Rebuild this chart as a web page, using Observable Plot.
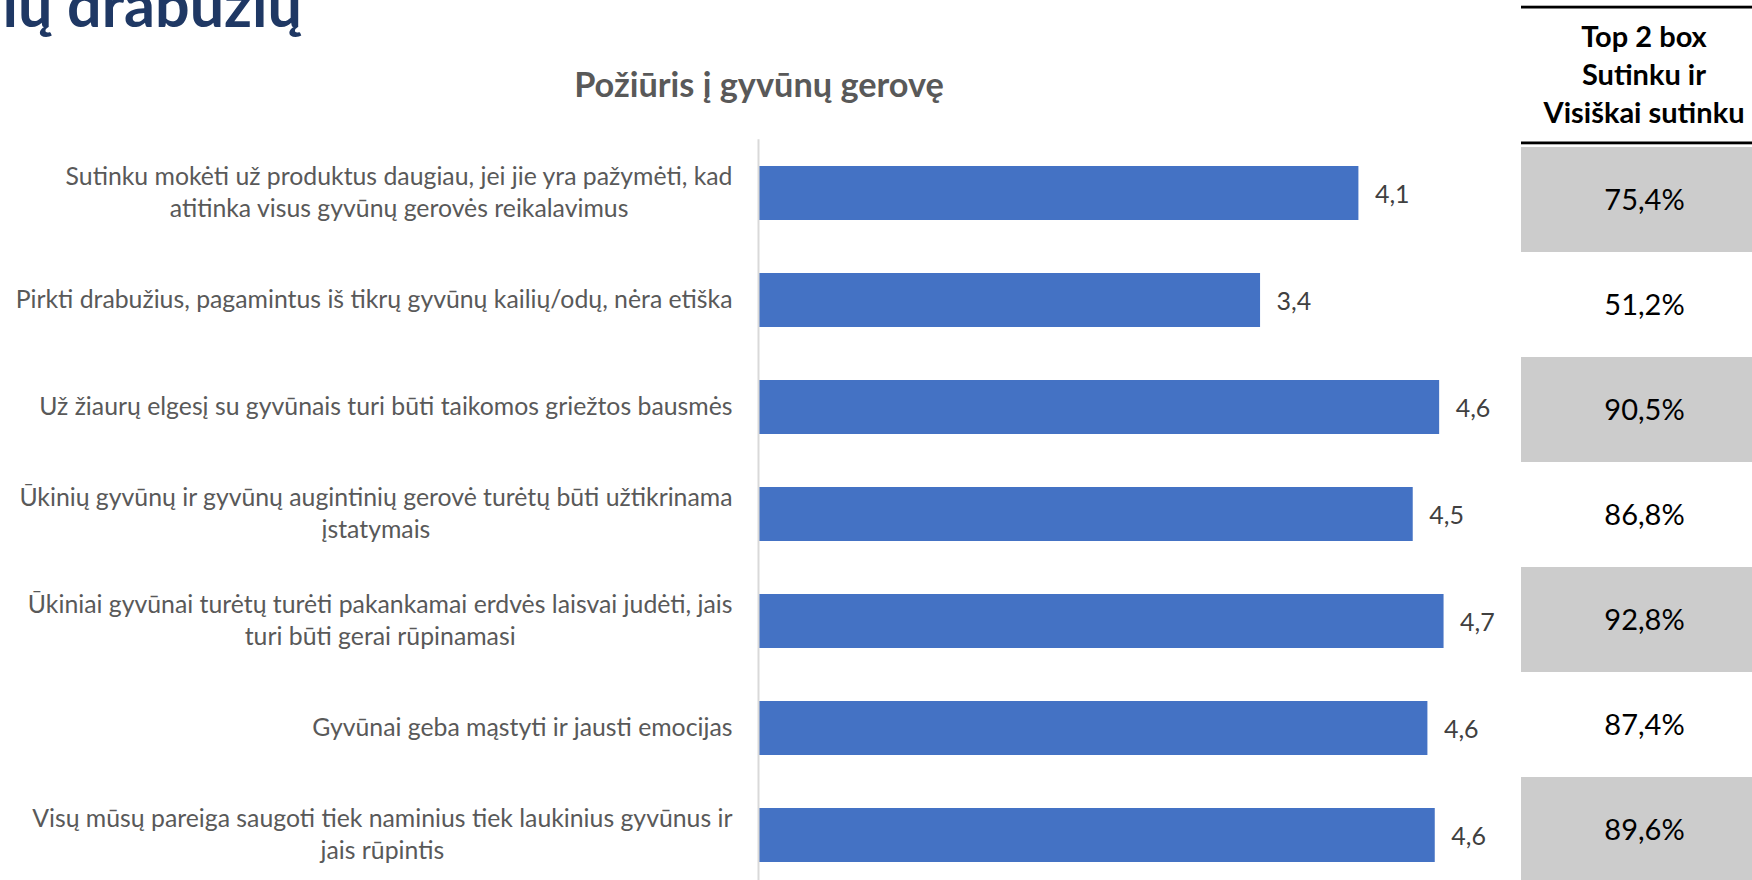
<!DOCTYPE html>
<html><head><meta charset="utf-8">
<script src="https://cdn.jsdelivr.net/npm/d3@7"></script>
<script src="https://cdn.jsdelivr.net/npm/@observablehq/plot@0.6"></script>
<style>
html,body{margin:0;padding:0;overflow:hidden;background:#fff;}
#wrap{position:relative;width:1752px;height:880px;overflow:hidden;}
#wrap svg{position:absolute;left:0;top:0;max-width:none !important;}
</style></head><body><div id="wrap"></div>
<script>
const statements = [
  "Sutinku mokėti už produktus daugiau, jei jie yra pažymėti, kad\natitinka visus gyvūnų gerovės reikalavimus",
  "Pirkti drabužius, pagamintus iš tikrų gyvūnų kailių/odų, nėra etiška",
  "Už žiaurų elgesį su gyvūnais turi būti taikomos griežtos bausmės",
  "Ūkinių gyvūnų ir gyvūnų augintinių gerovė turėtų būti užtikrinama\nįstatymais",
  "Ūkiniai gyvūnai turėtų turėti pakankamai erdvės laisvai judėti, jais\nturi būti gerai rūpinamasi",
  "Gyvūnai geba mąstyti ir jausti emocijas",
  "Visų mūsų pareiga saugoti tiek naminius tiek laukinius gyvūnus ir\njais rūpintis"
];
const means = [4.09, 3.42, 4.64, 4.46, 4.67, 4.56, 4.61];
const top2box = [75.4, 51.2, 90.5, 86.8, 92.8, 87.4, 89.6];
const headerLines = ["Top 2 box", "Sutinku ir", "Visiškai sutinku"];
const chartTitle = "Požiūris į gyvūnų gerovę";
const pageHeading = "ių drabužių";

const fmt = v => v.toFixed(1).replace(".", ",");
const rows = statements.map((s, i) => ({key: s, mean: means[i], t2b: top2box[i], i}));
const FONT = "Lato, 'Open Sans', sans-serif";
const wrap = document.getElementById("wrap");

const main = Plot.plot({
  width: 1752, height: 900,
  marginLeft: 758, marginRight: 260, marginTop: 139.25, marginBottom: 11.75,
  style: {fontFamily: FONT, background: "transparent", overflow: "visible"},
  x: {domain: [0, 5], axis: null},
  y: {type: "band", domain: statements, paddingInner: 0.5, paddingOuter: 0.25},
  marks: [
    Plot.barX(rows, {y: "key", x: "mean", fill: "#4472C4"}),
    Plot.ruleX([0], {stroke: "#d9d9d9", strokeWidth: 2}),
    Plot.axisY({tickSize: 0, tickPadding: 26, fontSize: 24.8, color: "#595959", lineHeight: 1.3, label: null, dy: -2.5}),
    Plot.text(rows, {y: "key", x: "mean", text: d => fmt(d.mean), dx: 16, textAnchor: "start", fontSize: 25, fill: "#404040", dy: 1})
  ]
});
wrap.appendChild(main);

// center multi-line labels relative to each other, block right-aligned
d3.select(main).selectAll('g[aria-label="y-axis tick label"] text').each(function() {
  const tspans = this.querySelectorAll("tspan");
  if (tspans.length > 1) {
    const w = this.getBBox().width;
    this.setAttribute("text-anchor", "middle");
    tspans.forEach(t => t.setAttribute("x", -w / 2));
  }
});

const table = Plot.plot({
  width: 1767, height: 900,
  marginLeft: 1521, marginRight: 0, marginTop: 144, marginBottom: 15,
  style: {fontFamily: FONT, background: "transparent"},
  color: {type: "identity"},
  x: {type: "band", domain: ["t2b"], padding: 0, axis: null},
  y: {type: "band", domain: statements, padding: 0, axis: null},
  marks: [
    Plot.cell(rows, {x: () => "t2b", y: "key", fill: d => d.i % 2 === 0 ? "#cccccc" : "#ffffff", inset: 0}),
    Plot.text(rows, {x: () => "t2b", y: "key", text: d => fmt(d.t2b) + "%", fontSize: 29, fill: "#000000", dy: 1})
  ]
});
wrap.appendChild(table);

// overlay texts and header rules
const ov = d3.select(wrap).append("svg")
  .attr("width", 1767).attr("height", 880)
  .style("font-family", FONT).style("pointer-events", "none");

ov.append("text").attr("x", 302).attr("y", 27).attr("text-anchor", "end")
  .attr("font-size", 61).attr("font-weight", 700).attr("fill", "#1F3864").text(pageHeading);

ov.append("text").attr("x", 759).attr("y", 96.7).attr("text-anchor", "middle")
  .attr("font-size", 34.3).attr("font-weight", 700).attr("fill", "#595959").text(chartTitle);

ov.selectAll("text.hdr").data(headerLines).join("text").attr("class", "hdr")
  .attr("x", 1644).attr("y", (d, i) => 46.7 + i * 38.3).attr("text-anchor", "middle")
  .attr("font-size", 29).attr("font-weight", 700).attr("fill", "#000").text(d => d);

ov.append("rect").attr("x", 1521).attr("y", 5.7).attr("width", 246).attr("height", 2.8).attr("fill", "#000");
ov.append("rect").attr("x", 1521).attr("y", 141.5).attr("width", 246).attr("height", 2.8).attr("fill", "#000");
</script></body></html>
